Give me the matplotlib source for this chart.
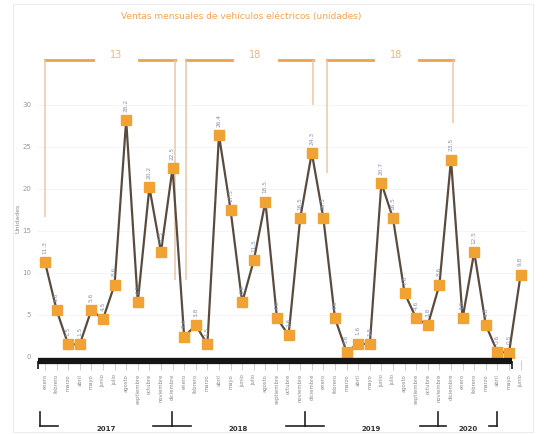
import matplotlib.pyplot as plt
from matplotlib.transforms import blended_transform_factory
from matplotlib.patches import Rectangle

# monthly electric vehicle sales, Jan 2017 - Jun 2020
years = ["2017", "2018", "2019", "2020"]
months = ["enero", "febrero", "marzo", "abril", "mayo", "junio", "julio",
          "agosto", "septiembre", "octubre", "noviembre", "diciembre"]
sales_2017 = [11.3, 5.6, 1.5, 1.5, 5.6, 4.5, 8.6, 28.2, 6.5, 20.2, 12.5, 22.5]
sales_2018 = [2.4, 3.8, 1.5, 26.4, 17.5, 6.5, 11.5, 18.5, 4.6, 2.6, 16.5, 24.3]
sales_2019 = [16.5, 4.6, 0.6, 1.6, 1.5, 20.7, 16.5, 7.6, 4.6, 3.8, 8.6, 23.5]
sales_2020 = [4.6, 12.5, 3.8, 0.6, 0.5, 9.8]
y_ticks = [0, 5, 10, 15, 20, 25, 30]

# top brackets: (start, end, text, left drop, right drop)
top_brackets = [(0.0, 11.2, "13", 16.7, 9.2),
                (12.2, 23.1, "18", 9.2, 30.0),
                (24.3, 35.2, "18", 21.9, 27.9)]
# year separators under the month labels
year_edges = [-0.45, 10.95, 22.4, 33.9, 38.97]

sales = sales_2017 + sales_2018 + sales_2019 + sales_2020
labels = (months * 4)[:len(sales)]
x = list(range(len(sales)))

ORANGE = "#f0a232"
LINE = "#5b4b3f"

W, H = 544, 434
fig = plt.figure(figsize=(W / 100, H / 100), dpi=100)
ax = fig.add_axes([38 / W, (H - 360) / H, (527 - 38) / W, (360 - 55) / H])

ax.plot(x, sales, color=LINE, lw=1.6, marker="s", ms=6.5,
        mfc=ORANGE, mec=ORANGE, zorder=3)
for xi, v in zip(x, sales):
    ax.annotate(f"{v:.1f}", (xi, v), xytext=(0, 6), textcoords="offset points",
                rotation=90, ha="center", va="bottom", fontsize=4.2,
                color="#8593b0", zorder=4)

ax.set_xlim(-0.6, 41.55)
ax.set_ylim(-0.36, 35.95)
ax.set_yticks(y_ticks)
ax.set_xticks(x)
ax.set_xticklabels(labels, rotation=90, fontsize=3.8, color="#8a8a8a")
ax.tick_params(axis="x", length=7, color="#d0d0d0", pad=3)
ax.tick_params(axis="y", length=0, labelsize=5, labelcolor="#999999", pad=5)
ax.grid(axis="y", color="#f2f2f2", lw=0.6)
ax.set_axisbelow(True)
for s in ax.spines.values():
    s.set_visible(False)

# thick black base bar
ax.hlines(-0.48, -0.6, 40.25, color="#151515", lw=4.5, clip_on=False, zorder=5)
ax.vlines([-0.6, 40.25], -1.4, -0.48, color="#151515", lw=1.2, clip_on=False)

fig.text(18 / W, 1 - 218 / H, "Unidades", rotation=90, ha="center", va="center",
         fontsize=4.5, color="#8a8a8a")
fig.text(241 / W, 1 - 17 / H,
         "Ventas mensuales de vehículos eléctricos (unidades)",
         ha="center", va="center", fontsize=6.5, color="#f5a451")

# orange brackets along the top
top_y = 35.36
for x0, x1, txt, d0, d1 in top_brackets:
    mid = (x0 + x1) / 2 + 0.5
    ax.plot([x0, mid - 2.0], [top_y, top_y], color="#f0a050", lw=2, clip_on=False)
    ax.plot([mid + 2.0, x1], [top_y, top_y], color="#f0a050", lw=2, clip_on=False)
    ax.vlines([x0], d0, top_y, color="#edc6a6", lw=1.1, clip_on=False)
    ax.vlines([x1], d1, top_y, color="#edc6a6", lw=1.1, clip_on=False)
    ax.text(mid, top_y + 0.6, txt, ha="center", va="center", fontsize=7,
            color="#f5b37a", clip_on=False)

# year brackets at the bottom
tr = blended_transform_factory(ax.transData, fig.transFigure)
y_line = (H - 426) / H
y_top = (H - 412) / H
for yr, e0, e1 in zip(years, year_edges[:-1], year_edges[1:]):
    mid = (e0 + e1) / 2
    gap = 0.36 * (e1 - e0)
    ax.plot([e0, mid - gap], [y_line, y_line], color="#222222", lw=1.2,
            transform=tr, clip_on=False)
    ax.plot([mid + gap, e1], [y_line, y_line], color="#222222", lw=1.2,
            transform=tr, clip_on=False)
    ax.text(mid, (H - 429) / H, yr, transform=tr, ha="center", va="center",
            fontsize=5, fontweight="bold", color="#333333")
for e in year_edges:
    ax.plot([e, e], [y_line, y_top], color="#222222", lw=1.2,
            transform=tr, clip_on=False)

fig.patches.append(Rectangle((13 / W, 2 / H), (533 - 13) / W, (430 - 2) / H,
                             transform=fig.transFigure, fill=False,
                             ec="#ececec", lw=0.8))

fig.savefig("out.png", dpi=100)
